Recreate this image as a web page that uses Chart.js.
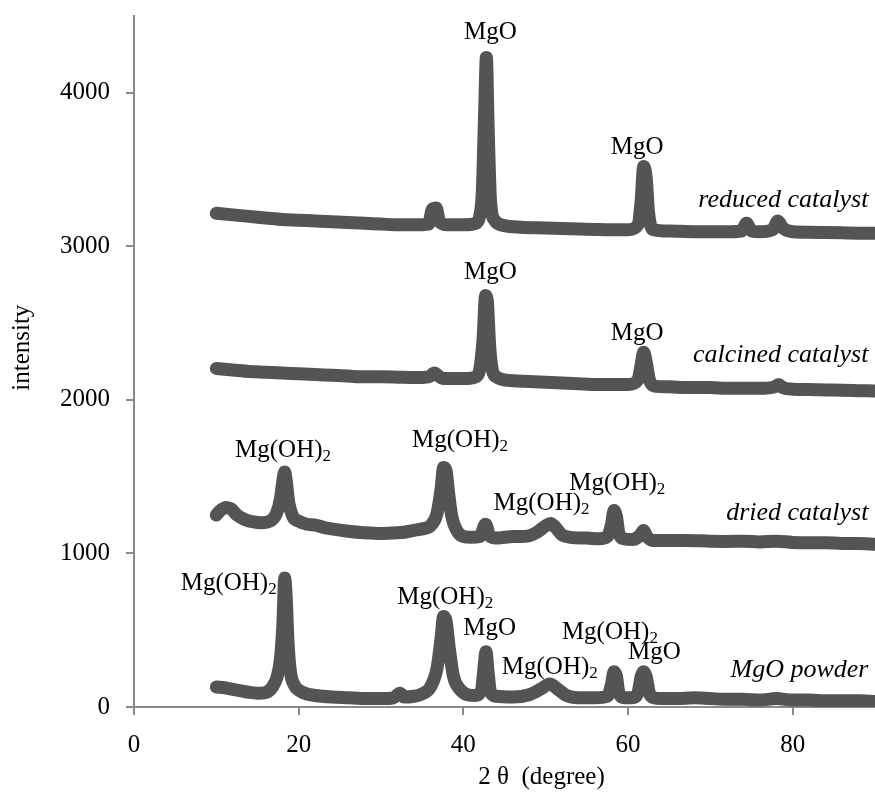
<!DOCTYPE html>
<html><head><meta charset="utf-8">
<script src="https://cdn.jsdelivr.net/npm/chart.js@4.4.1/dist/chart.umd.min.js"></script>
<style>html,body{margin:0;padding:0;background:#fff;overflow:hidden}</style>
</head><body>
<canvas id="c" width="875" height="792" style="width:875px;height:792px;display:block"></canvas>
<script>
// ---- data (2θ in degrees, intensity in counts, offset stacked as in the figure) ----
const powderX = [10,11,12,13,14,15,16,16.8,17.4,17.8,18.1,18.3,18.5,18.7,19.0,19.5,20,21,22,24,26,28,30,31.5,32.3,32.8,34,35,36,36.8,37.3,37.6,37.9,38.3,38.8,39.5,40.5,41.5,42.2,42.5,42.75,43.0,43.3,44,46,48,49.5,50.5,51.5,52.5,54,56,57.5,58.0,58.3,58.6,58.9,59.5,60.5,61.2,61.6,61.9,62.2,62.6,63.2,64,66,68,70,72,74,76,78,80,82,84,86,88,90];
const powderY = [130,125,115,105,95,90,95,130,200,320,560,840,700,430,230,140,110,85,75,65,60,55,55,60,90,65,70,85,130,250,450,590,560,380,200,120,80,75,110,250,360,230,100,70,65,80,120,150,115,75,60,60,70,150,230,200,90,60,60,90,200,230,200,90,60,55,55,60,55,50,50,45,55,45,45,40,40,40,35];

const driedX = [10,10.5,11.2,11.8,12.5,13.5,14.5,15.5,16.5,17.3,17.8,18.1,18.3,18.5,18.8,19.3,20,21,22,23,24,26,28,30,32,33,34,35,36,36.8,37.3,37.6,37.9,38.2,38.6,39.2,40,41,42,42.7,43.2,44,45,46,47,48,49,50,50.6,51.2,52,53,55,56.5,57.5,58.0,58.3,58.6,58.9,59.5,60.5,61.5,61.9,62.3,63,65,67,70,72,74,76,78,80,82,84,86,88,90];
const driedY = [1250,1280,1300,1290,1250,1220,1205,1200,1210,1260,1360,1480,1530,1470,1330,1240,1210,1190,1185,1170,1160,1145,1135,1130,1135,1140,1150,1160,1180,1260,1420,1560,1540,1400,1240,1150,1110,1105,1110,1190,1115,1100,1105,1110,1110,1115,1140,1180,1195,1170,1120,1105,1100,1095,1110,1190,1280,1240,1130,1095,1090,1120,1150,1110,1085,1085,1085,1080,1078,1080,1075,1080,1072,1070,1070,1065,1065,1060];

const calcinedX = [10,12,14,16,18,20,22,24,26,28,30,32,34,35.8,36.5,36.9,37.5,39,40.5,41.5,42.0,42.4,42.7,42.9,43.2,43.5,44,46,48,50,52,54,56,58,60,61.2,61.6,61.9,62.2,62.6,63.2,65,67,70,72,74,76,77.8,78.3,78.8,80,82,84,86,88,90];
const calcinedY = [2205,2195,2185,2180,2175,2170,2165,2160,2155,2150,2150,2148,2145,2150,2175,2160,2140,2140,2140,2150,2200,2400,2680,2650,2350,2200,2150,2125,2120,2115,2110,2105,2100,2100,2100,2130,2230,2310,2250,2130,2090,2085,2080,2080,2075,2075,2075,2085,2100,2080,2070,2068,2065,2062,2060,2058];

const reducedX = [10,12,14,16,18,20,22,24,26,28,30,32,34,35.8,36.2,36.7,37.1,38,40,41.5,42.0,42.3,42.6,42.8,43.0,43.3,43.8,45,47,50,53,56,58,60,61.2,61.6,61.9,62.2,62.5,63,65,68,70,72,73.8,74.4,75.0,76,77.6,78.2,78.8,80,82,84,86,88,90];
const reducedY = [3215,3205,3195,3185,3175,3170,3165,3160,3155,3150,3145,3140,3140,3145,3240,3250,3160,3140,3140,3150,3200,3350,3900,4230,3800,3300,3170,3135,3125,3120,3115,3110,3108,3108,3140,3300,3520,3450,3220,3110,3100,3095,3095,3095,3100,3150,3100,3095,3110,3165,3120,3095,3092,3090,3088,3086,3085];

const xTicks = [0,20,40,60,80];
const yTicks = [0,1000,2000,3000,4000];
const xTitle = '2 θ  (degree)';
const yTitle = 'intensity';

// peak annotations (data coordinates)
const peakText = ['MgO','MgO','MgO','MgO','Mg(OH)2','Mg(OH)2','Mg(OH)2','Mg(OH)2','Mg(OH)2','Mg(OH)2','MgO','Mg(OH)2','Mg(OH)2','MgO'];
const peakX    = [43.3,61.1,43.3,61.1,18.1,39.6,49.5,58.7,11.5,37.8,43.2,50.5,57.8,63.2];
const peakY    = [4395,3646,2832,2435,1673,1738,1328,1458,807,716,514,260,488,358];

// sample names (right-aligned)
const sampleText = ['reduced catalyst','calcined catalyst','dried catalyst','MgO powder'];
const sampleX = [89.2,89.2,89.2,89.2];
const sampleY = [3300,2292,1263,241];

const pts = (xs, ys) => xs.map((v,i)=>({x:v,y:ys[i]}));
const dotColor = '#545454';
function ds(label, xs, ys){
  return {label, data: pts(xs,ys), showLine:true, borderColor:dotColor, borderWidth:13,
    borderJoinStyle:'round', borderCapStyle:'round', cubicInterpolationMode:'monotone',
    pointRadius:0, pointHoverRadius:0};
}

const FONT = '"Liberation Serif", "Times New Roman", serif';
const annot = {
  id:'annot',
  afterDatasetsDraw(chart){
    const {ctx, scales:{x,y}} = chart;
    ctx.save();
    ctx.fillStyle = '#000';
    ctx.textBaseline = 'middle';
    const fMain = '25px ' + FONT, fSub = '17px ' + FONT;
    peakText.forEach((t,i)=>{
      const m = t.match(/^(.*?)(\d)$/);
      const main = m ? m[1] : t, sub = m ? m[2] : '';
      ctx.font = fMain; const wm = ctx.measureText(main).width;
      ctx.font = fSub; const ws = sub ? ctx.measureText(sub).width : 0;
      const px = x.getPixelForValue(peakX[i]) - (wm+ws)/2, py = y.getPixelForValue(peakY[i]);
      ctx.textAlign = 'left';
      ctx.font = fMain; ctx.fillText(main, px, py);
      if (sub){ ctx.font = fSub; ctx.fillText(sub, px+wm, py+6); }
    });
    ctx.font = 'italic 26px ' + FONT;
    ctx.textAlign = 'right';
    sampleText.forEach((t,i)=>{
      ctx.fillText(t, x.getPixelForValue(sampleX[i]), y.getPixelForValue(sampleY[i]));
    });
    // axis titles
    ctx.font = '25px ' + FONT;
    ctx.textAlign = 'center';
    ctx.fillText(xTitle, x.getPixelForValue(49.5), chart.height - 15);
    ctx.translate(22, y.getPixelForValue(2340));
    ctx.rotate(-Math.PI/2);
    ctx.fillText(yTitle, 0, 0);
    ctx.restore();
  }
};

const axisColor = '#8a8a8a';
new Chart(document.getElementById('c'), {
  type:'scatter',
  data:{datasets:[ds('MgO powder',powderX,powderY), ds('dried catalyst',driedX,driedY),
                  ds('calcined catalyst',calcinedX,calcinedY), ds('reduced catalyst',reducedX,reducedY)]},
  options:{
    responsive:false, animation:false, devicePixelRatio:1,
    layout:{padding:{top:16,right:0,bottom:0,left:0}},
    plugins:{legend:{display:false}, tooltip:{enabled:false}},
    scales:{
      x:{type:'linear', min:0, max:90,
        afterFit(s){ s.height = 85; s.paddingLeft = 0; s.paddingRight = 0; },
        afterBuildTicks(s){ s.ticks = xTicks.map(v=>({value:v})); },
        border:{display:true, color:axisColor, width:2},
        grid:{display:true, drawOnChartArea:false, drawTicks:true, tickLength:8, color:axisColor, lineWidth:2},
        ticks:{color:'#000', font:{family:FONT, size:25}, padding:15, maxRotation:0, callback:v=>String(v)},
        title:{display:false}
      },
      y:{type:'linear', min:0, max:4500,
        afterFit(s){ s.width = 134; s.paddingTop = 0; s.paddingBottom = 0; },
        afterBuildTicks(s){ s.ticks = yTicks.map(v=>({value:v})); },
        border:{display:true, color:axisColor, width:2},
        grid:{display:true, drawOnChartArea:false, drawTicks:true, tickLength:8, color:axisColor, lineWidth:2},
        ticks:{color:'#000', font:{family:FONT, size:25}, padding:16, callback:v=>String(v)},
        title:{display:false}
      }
    }
  },
  plugins:[annot]
});
</script>
</body></html>
